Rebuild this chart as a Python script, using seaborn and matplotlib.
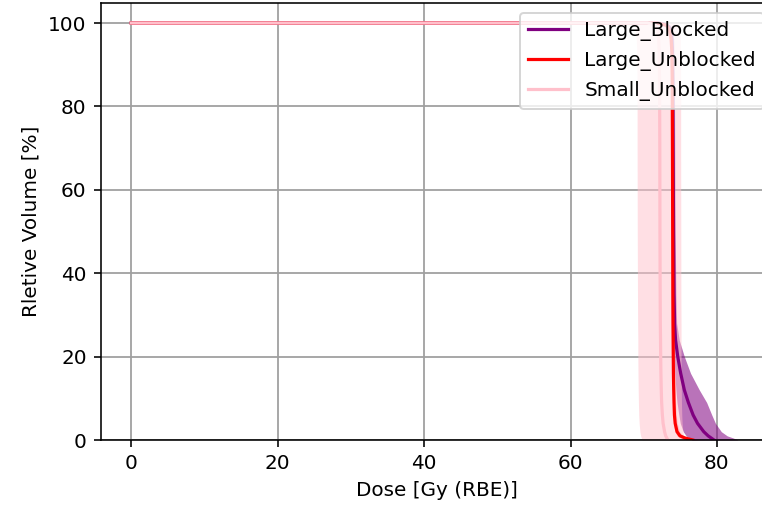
import numpy as np
import pandas as pd
import matplotlib
matplotlib.use("Agg")
import matplotlib.pyplot as plt
import seaborn as sns

# Volume levels [%] at which the dose of each curve is read
volume = [100, 100, 99.5, 99, 98, 96, 93, 85, 70, 50, 35, 28, 24, 20, 16, 12, 9, 6, 4, 2, 1, 0.5, 0]

# Large_Blocked: mean dose, band low/high [Gy]
lb_mean = [0, 72.0, 73.2, 73.5, 73.7, 73.85, 73.92, 73.98, 74.02, 74.08, 74.15, 74.22, 74.35,
           74.65, 75.05, 75.55, 76.1, 76.75, 77.35, 78.2, 78.8, 79.2, 79.6]
lb_low  = [0, 71.5, 72.8, 73.2, 73.45, 73.65, 73.75, 73.82, 73.86, 73.9, 73.95, 74.0, 74.05,
           74.15, 74.25, 74.4, 74.55, 74.8, 75.0, 75.4, 75.8, 76.2, 76.6]
lb_high = [0, 72.5, 73.6, 73.85, 74.0, 74.1, 74.15, 74.2, 74.25, 74.3, 74.4, 74.5, 74.85,
           75.55, 76.4, 77.6, 78.6, 79.3, 79.8, 80.6, 81.4, 82.2, 82.9]

# Large_Unblocked
lu_mean = [0, 71.8, 73.0, 73.3, 73.55, 73.75, 73.85, 73.9, 73.93, 73.96, 73.98, 74.0, 74.02,
           74.04, 74.06, 74.1, 74.14, 74.2, 74.3, 74.55, 74.95, 75.6, 76.7]
lu_low  = [0, 71.6, 72.8, 73.1, 73.4, 73.6, 73.7, 73.75, 73.78, 73.8, 73.82, 73.84, 73.86,
           73.88, 73.9, 73.93, 73.96, 74.0, 74.08, 74.25, 74.55, 75.0, 75.8]
lu_high = [0, 72.0, 73.2, 73.5, 73.7, 73.9, 74.0, 74.05, 74.08, 74.12, 74.15, 74.18, 74.2,
           74.23, 74.26, 74.3, 74.35, 74.45, 74.6, 74.9, 75.4, 76.2, 77.5]

# Small_Unblocked
su_mean = [0, 70.5, 71.6, 71.8, 71.95, 72.05, 72.12, 72.17, 72.2, 72.22, 72.25, 72.27, 72.3,
           72.32, 72.35, 72.4, 72.45, 72.55, 72.65, 72.85, 73.0, 73.15, 73.3]
su_low  = [0, 68.0, 68.6, 68.8, 68.9, 69.0, 69.05, 69.1, 69.1, 69.12, 69.15, 69.17, 69.2,
           69.2, 69.22, 69.25, 69.28, 69.32, 69.38, 69.48, 69.58, 69.68, 69.8]
su_high = [0, 74.3, 74.8, 74.9, 74.95, 75.0, 75.02, 75.05, 75.05, 75.07, 75.08, 75.1, 75.1,
           75.1, 75.12, 75.14, 75.16, 75.2, 75.25, 75.35, 75.45, 75.6, 75.8]

series = [
    ("Large_Blocked", "purple", lb_mean, lb_low, lb_high, 0.55),
    ("Large_Unblocked", "red", lu_mean, lu_low, lu_high, 0.25),
    ("Small_Unblocked", "pink", su_mean, su_low, su_high, 0.5),
]

fig = plt.figure(figsize=(762 / 144, 506 / 144), dpi=144)
ax = fig.add_axes([100.7 / 762, 66 / 506, (774 - 100.7) / 762, 437 / 506])

for name, color, mean, low, high, alpha in series:
    ax.fill_betweenx(volume, low, high, color=color, alpha=alpha, linewidth=0, zorder=1)

for name, color, mean, low, high, alpha in series:
    df = pd.DataFrame({"dose": mean, "vol": volume})
    sns.lineplot(data=df, x="dose", y="vol", sort=False, color=color,
                 linewidth=1.6, label=name, ax=ax, zorder=2)

ax.set_xlim(-4.18, 87.8)
ax.set_ylim(0, 104.8)
ax.set_xticks([0, 20, 40, 60, 80])
ax.set_yticks([0, 20, 40, 60, 80, 100])
ax.grid(True, color="#a0a0a0", linewidth=0.9)
ax.set_axisbelow(True)
ax.set_xlabel("Dose [Gy (RBE)]")
ax.set_ylabel("Rletive Volume [%]")
ax.legend(loc="upper right")

fig.savefig("out.png", dpi=144)
